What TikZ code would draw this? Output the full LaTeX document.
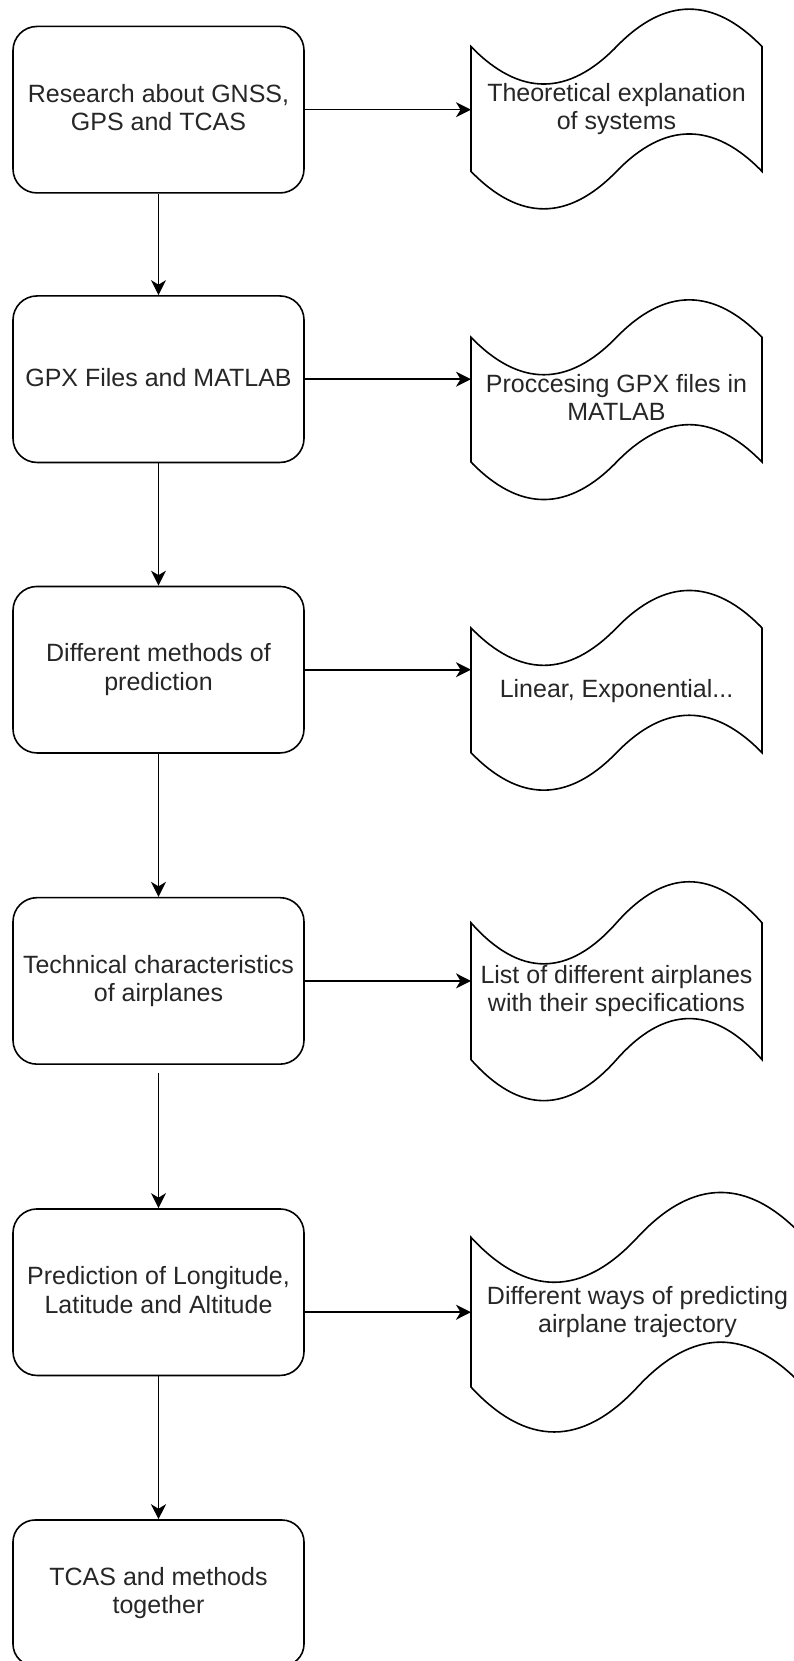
\documentclass[tikz,border=0pt]{standalone}
\usepackage{fontspec}
\setmainfont{Liberation Sans}
\usetikzlibrary{arrows.meta}
\newcommand\lnstrut{\rule[-4.95pt]{0pt}{23.55pt}}
\newcommand\tapenode[6]{%
  \node[tapetext, minimum width=#4pt, minimum height=#5pt] (#1) at (#2,#3) {#6};
  \pgfmathsetmacro\tpW{#4}\pgfmathsetmacro\tpH{#5}\pgfmathsetmacro\tpD{0.4*#5}%
  \draw[tapeline, shift={(#1.north west)}]
    (0,{\tpD/2}) .. controls ({\tpW/6},{1.1*\tpD}) and ({\tpW/3},{1.1*\tpD}) .. ({\tpW/2},{\tpD/2})
    .. controls ({2*\tpW/3},{-0.1*\tpD}) and ({5*\tpW/6},{-0.1*\tpD}) .. (\tpW,{\tpD/2})
    -- (\tpW,{\tpH-\tpD/2})
    .. controls ({5*\tpW/6},{\tpH-1.1*\tpD}) and ({2*\tpW/3},{\tpH-1.1*\tpD}) .. ({\tpW/2},{\tpH-\tpD/2})
    .. controls ({\tpW/3},{\tpH+0.1*\tpD}) and ({\tpW/6},{\tpH+0.1*\tpD}) .. (0,{\tpH-\tpD/2})
    -- cycle;}
\begin{document}
\begin{tikzpicture}[x=1pt,y=-1pt,
  txt/.style={font=\fontsize{25}{28.5}\selectfont, text=black!85, align=center,
    execute at begin node=\lnstrut, execute at end node=\lnstrut},
  box/.style={txt, draw, line width=1.6pt, rounded corners=24pt, minimum width=291pt,
    minimum height=166.5pt, inner sep=0pt},
  tapetext/.style={txt, inner sep=0pt, outer sep=0pt},
  tapeline/.style={draw, line width=1.6pt},
  arr/.style={line width=1.6pt, -{Stealth[length=15pt, width=15pt, inset=4.5pt]}}]
\useasboundingbox (0,0) rectangle (794,1661);

\node[box] (b1) at (158.5,109.7) {Research about GNSS,\\GPS and TCAS};
\node[box] (b2) at (158.5,379.2) {GPX Files and MATLAB};
\node[box] (b3) at (158.5,669.7) {Different methods of\\prediction};
\node[box] (b4) at (158.5,980.9) {Technical characteristics\\of airplanes};
\node[box] (b5) at (158.5,1292.2) {Prediction of Longitude,\\Latitude and Altitude};
\node[box, minimum height=146pt, rounded corners=22pt] (b6) at (158.5,1593) {TCAS and methods\\together};

\tapenode{t1}{616.5}{109}{291}{208}{Theoretical explanation\\of systems}
\tapenode{t2}{616.5}{399.7}{291}{208}{Proccesing GPX files in\\MATLAB}
\tapenode{t3}{616.5}{690.3}{291}{208}{Linear, Exponential...}
\tapenode{t4}{616.5}{991.2}{291}{228}{List of different airplanes\\with their specifications}
\tapenode{t5}{637.5}{1312.2}{333}{249.5}{Different ways of predicting\\airplane trajectory}

\coordinate (s45) at (158.5,1073);

\draw[arr] (b1.south) -- (b2.north);
\draw[arr] (b2.south) -- (b3.north);
\draw[arr] (b3.south) -- (b4.north);
\draw[arr] (s45) -- (b5.north);
\draw[arr] (b5.south) -- (b6.north);

\draw[arr] (b1.east) -- (b1.east -| t1.west);
\draw[arr] (b2.east) -- (b2.east -| t2.west);
\draw[arr] (b3.east) -- (b3.east -| t3.west);
\draw[arr] (b4.east) -- (b4.east -| t4.west);
\draw[arr] (t5.west -| b5.east) -- (t5.west);
\end{tikzpicture}
\end{document}
